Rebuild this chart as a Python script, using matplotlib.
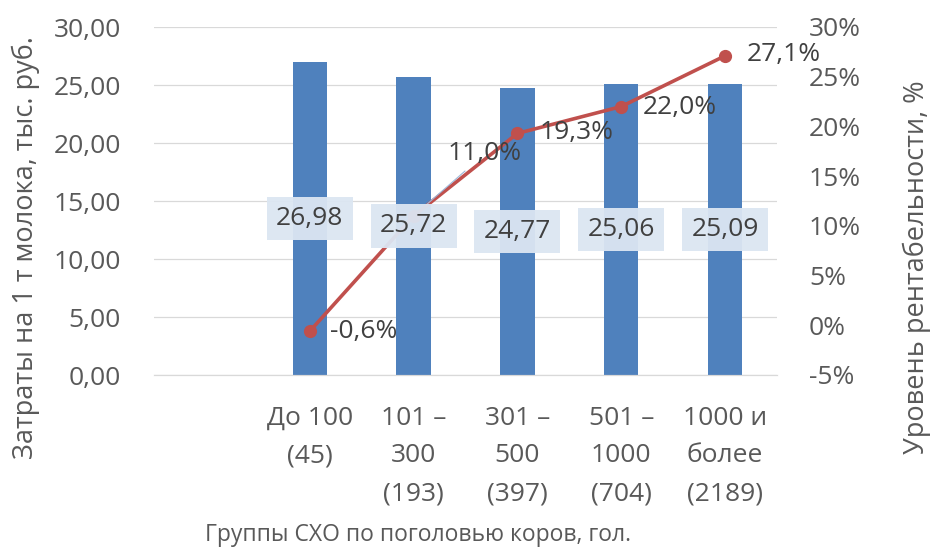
import numpy as np
import matplotlib.pyplot as plt

plt.rcParams['font.family'] = ['Open Sans', 'DejaVu Sans']

# categories (first slot is empty, as in the original Excel chart)
groups = ['', 'До 100\n(45)', '101 –\n300\n(193)', '301 –\n500\n(397)',
          '501 –\n1000\n(704)', '1000 и\nболее\n(2189)']
costs = [None, 26.98, 25.72, 24.77, 25.06, 25.09]          # тыс. руб. за 1 т
profit = [None, -0.6, 11.0, 19.3, 22.0, 27.1]              # уровень рентабельности, %

left_ticks = [0, 5, 10, 15, 20, 25, 30]
right_ticks = [-5, 0, 5, 10, 15, 20, 25, 30]

bar_color = '#4F81BD'
line_color = '#C0504D'
text_color = '#595959'
label_color = '#404040'
grid_color = '#D9D9D9'

fig = plt.figure(figsize=(9.3, 5.54), dpi=100)
ax = fig.add_axes([154 / 930, 1 - 375 / 554, (777 - 154) / 930, (375 - 27) / 554])
ax2 = ax.twinx()

x = np.arange(len(groups))
bx = [i for i, v in zip(x, costs) if v is not None]
bv = [v for v in costs if v is not None]
lv = [v for v in profit if v is not None]

ax.bar(bx, bv, width=0.33, color=bar_color, zorder=2)
ax.set_xlim(-0.5, len(groups) - 0.5)
ax.set_ylim(0, 30)
ax.set_yticks(left_ticks)
ax.set_yticklabels([f'{v:.2f}'.replace('.', ',') for v in left_ticks])
ax.set_xticks(x)
ax.set_xticklabels(groups, linespacing=1.68)
ax.grid(axis='y', color=grid_color, linewidth=0.9, zorder=0)
ax.set_axisbelow(True)

ax2.plot(bx, lv, color=line_color, linewidth=2.6, marker='o', markersize=8.5, zorder=3)
ax2.set_ylim(-5, 30)
ax2.set_yticks(right_ticks)
ax2.set_yticklabels([f'{v}%' for v in right_ticks])

for a in (ax, ax2):
    for s in ['top', 'left', 'right']:
        a.spines[s].set_visible(False)
    a.spines['bottom'].set_color(grid_color)
    a.tick_params(length=0, colors=text_color, labelsize=19)
ax.tick_params(axis='y', pad=24)
ax2.tick_params(axis='y', pad=23)
ax.tick_params(axis='x', pad=22)

# line value labels (right of each point; 11,0% pulled up with a leader)
offsets = [(20, 0), (34, 62), (22, 1), (22, -1), (22, 1)]
for xi, v, off in zip(bx, lv, offsets):
    txt = f'{v:.1f}%'.replace('.', ',')
    if off[1] > 20:
        ax2.annotate(txt, (xi, v), xytext=off, textcoords='offset pixels',
                     ha='left', va='center', fontsize=19, color=label_color, zorder=4,
                     arrowprops=dict(arrowstyle='-', color='#9DB7D8', lw=0.8,
                                     shrinkA=2, shrinkB=12))
    else:
        ax2.annotate(txt, (xi, v), xytext=off, textcoords='offset pixels',
                     ha='left', va='center', fontsize=19, color=label_color, zorder=4)

# bar value labels in boxes, centred on the bars, drawn above the line
for xi, v in zip(bx, bv):
    ax2.text(xi, v / 2, f'{v:.2f}'.replace('.', ','), transform=ax.transData,
             ha='center', va='center', fontsize=19, color=label_color, zorder=5,
             bbox=dict(boxstyle='square,pad=0.35', facecolor='#DCE6F2',
                       edgecolor='none', alpha=0.95))

fig.text(26 / 930, 1 - 248 / 554, 'Затраты на 1 т молока, тыс. руб.', rotation=90,
         ha='center', va='center', fontsize=19.5, color=text_color)
fig.text(917 / 930, 1 - 267 / 554, 'Уровень рентабельности, %', rotation=90,
         ha='center', va='center', fontsize=19.5, color=text_color)
fig.text(418 / 930, 1 - 535 / 554, 'Группы СХО по поголовью коров, гол.',
         ha='center', va='center', fontsize=16.5, color=text_color)

fig.savefig('out.png', dpi=100)
